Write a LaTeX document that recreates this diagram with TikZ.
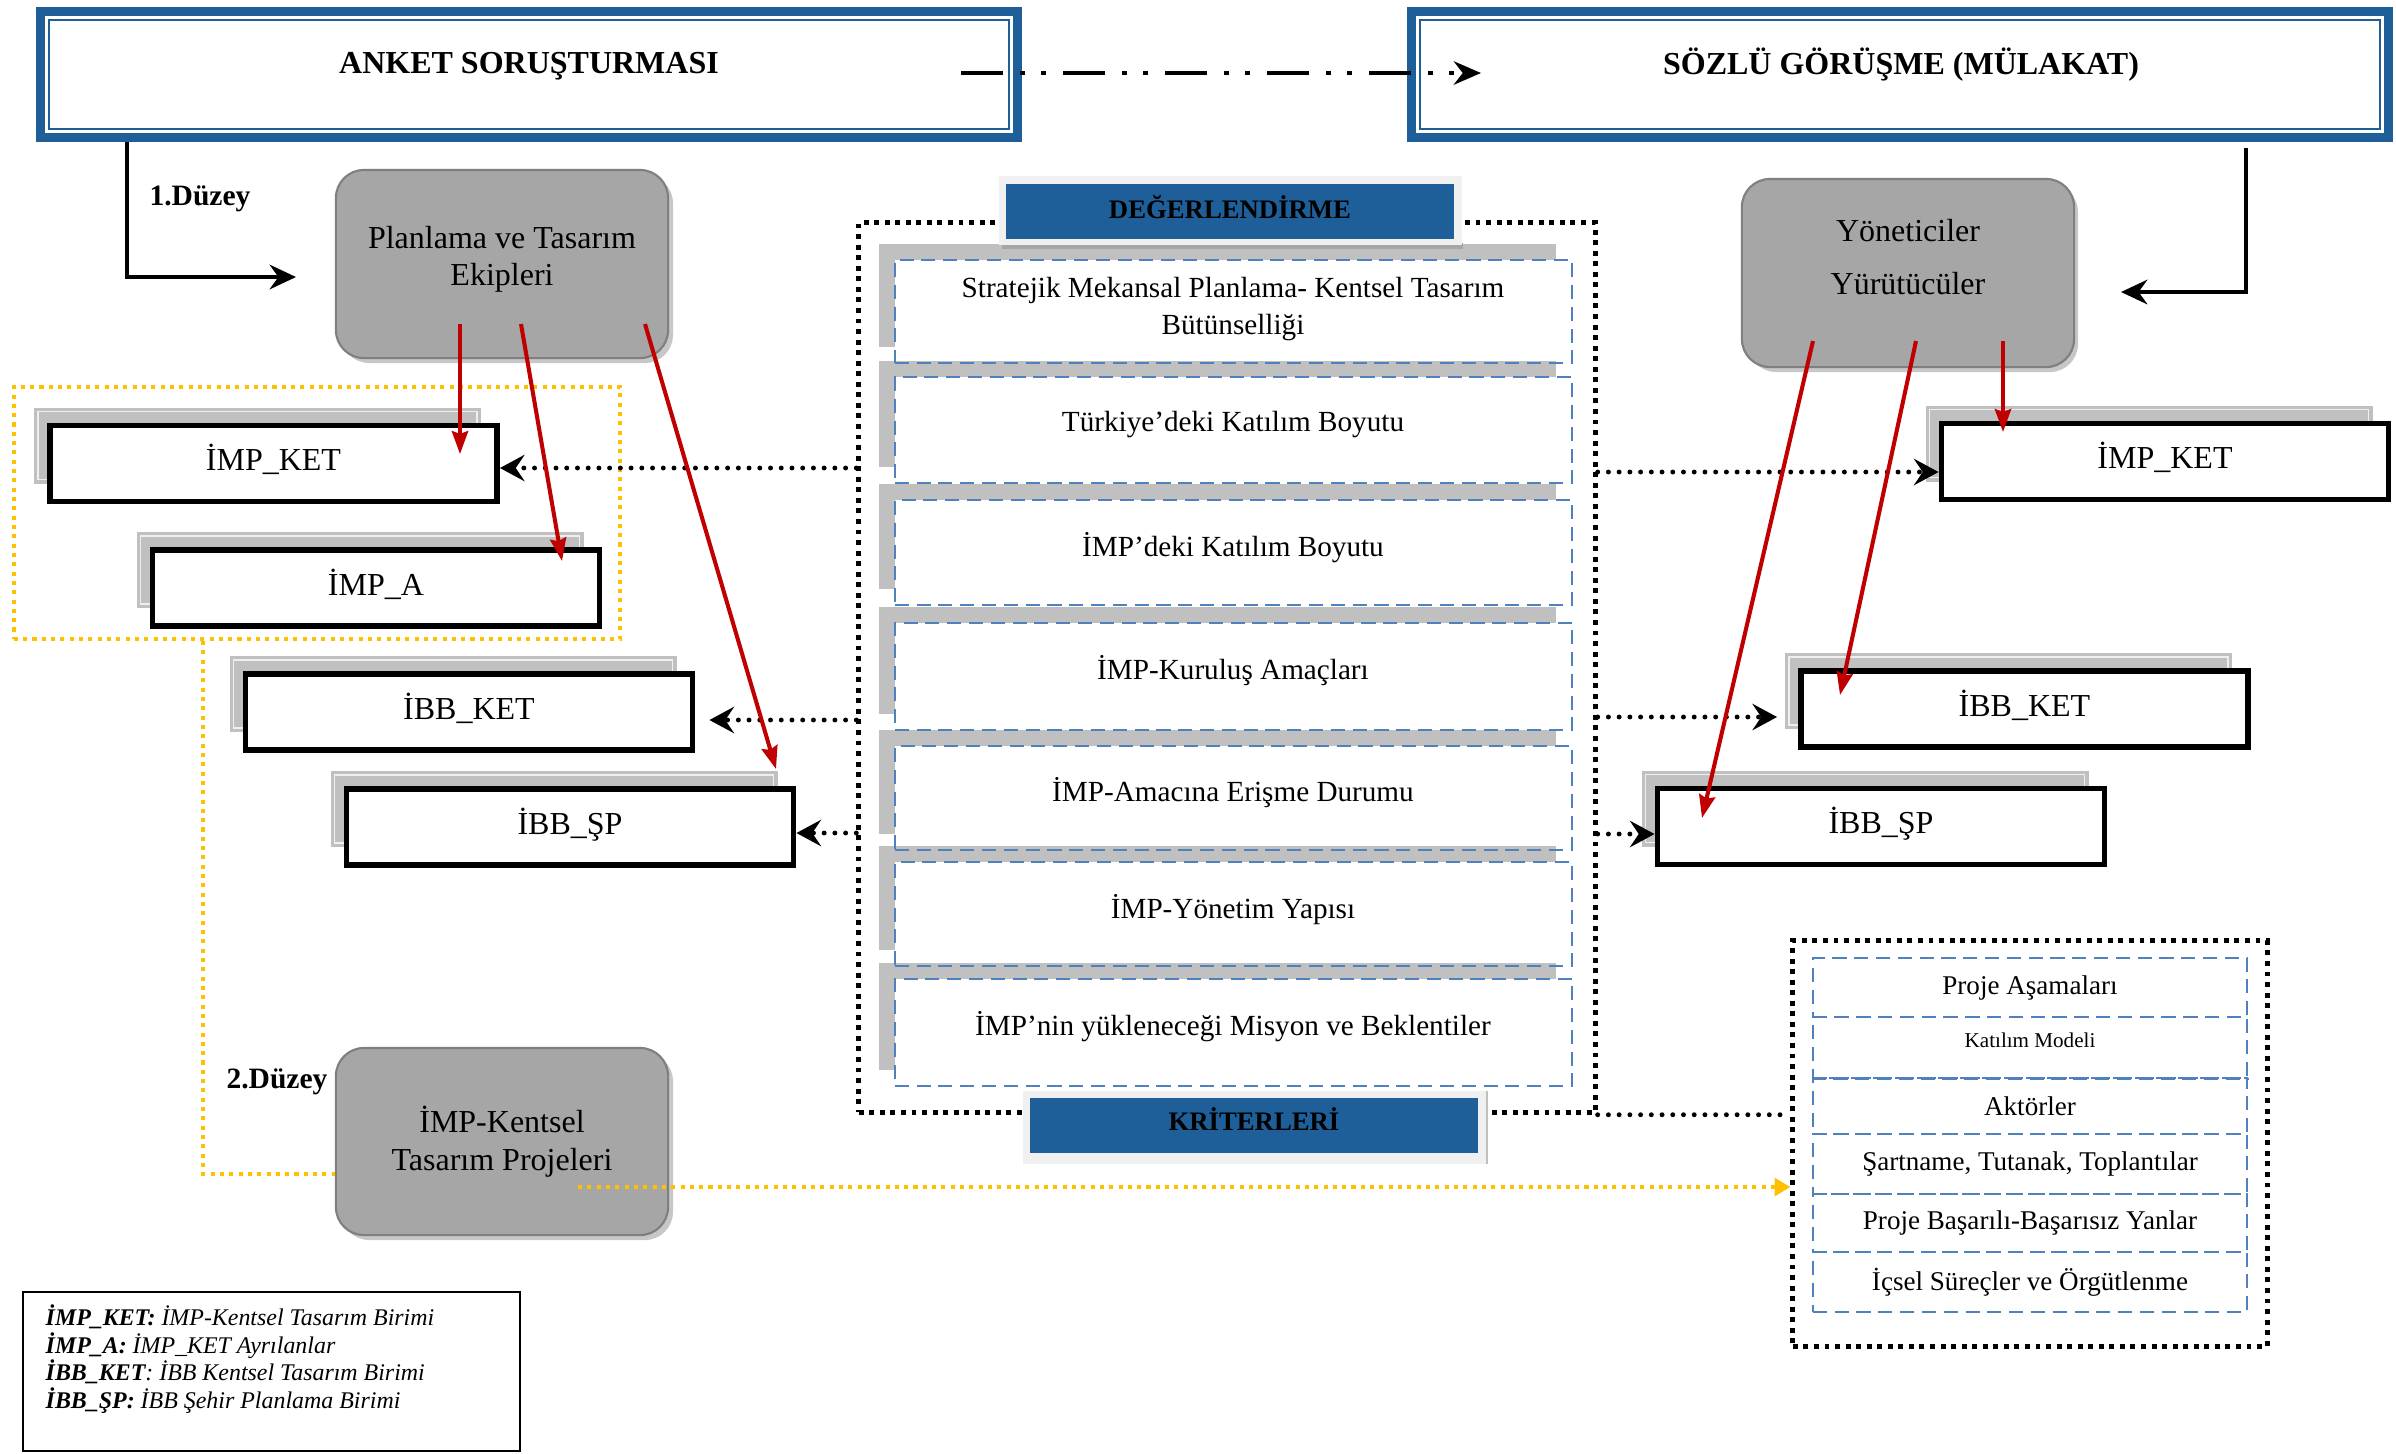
\documentclass[tikz,border=0pt]{standalone}
\usepackage{fontspec}
\setmainfont{Liberation Serif}
\usetikzlibrary{arrows.meta,calc}
\definecolor{bl}{HTML}{1F5F99}
\definecolor{dashbl}{HTML}{4F81BD}
\definecolor{redc}{HTML}{C00000}
\definecolor{yel}{HTML}{FFC000}
\definecolor{gbox}{HTML}{A6A6A6}
\definecolor{gboxd}{HTML}{7F7F7F}
\definecolor{shad}{HTML}{C0C0C0}
\definecolor{lightfr}{HTML}{F0F0F0}
\newcommand{\unitbx}[4]{%
  \fill[shad] ($(#2,#3)+(-239.5,-56)$) rectangle ($(#2,#3)+(207.5,20)$);
  \draw[white!75!shad, line width=0.5pt] ($(#2,#3)+(-235.5,-52)$) rectangle ($(#2,#3)+(203.5,16)$);
  \node[unitbox] (#1) at (#2,#3) {\raisebox{-2pt}[0pt][0pt]{#4}};}
\begin{document}
\begin{tikzpicture}[x=0.01cm,y=-0.01cm,
  bluebox/.style={draw=bl, line width=2.56pt, inner sep=0pt, minimum width=9.77cm, minimum height=1.26cm},
  titletext/.style={font=\bfseries\fontsize{9.1}{11}\selectfont, inner sep=0pt},
  unitbox/.style={draw=black, fill=white, line width=1.6pt, minimum width=4.47cm, minimum height=0.76cm, inner sep=0pt, font=\fontsize{9.1}{11}\selectfont},
  grayrnd/.style={fill=gbox, draw=gboxd, line width=0.6pt, rounded corners=0.28cm, inner sep=0pt, minimum width=3.32cm, minimum height=1.88cm},
  gshadow/.style={fill=black!22, rounded corners=0.28cm},
  maintext/.style={font=\fontsize{9.1}{10.5}\selectfont, align=center, inner sep=0pt},
  itemtext/.style={font=\fontsize{8.3}{10.8}\selectfont, align=center, inner sep=0pt},
  rowbox/.style={draw=dashbl, line width=0.7pt, dash pattern=on 4pt off 2.2pt, minimum width=6.77cm, inner sep=0pt},
  critrow/.style={draw=dashbl, line width=0.7pt, dash pattern=on 4pt off 2.2pt, minimum width=4.34cm, inner sep=0pt, font=\fontsize{7.7}{9}\selectfont},
  sqdot/.style={draw=black, line width=1.4pt, dash pattern=on 1.4pt off 1.6pt, inner sep=0pt},
  dotline/.style={line width=1.4pt, line cap=round, dash pattern=on 0pt off 3.05pt},
  dotarr/.style={dotline, -{Stealth[length=7pt,width=7.5pt,inset=2.5pt]}},
  yeldot/.style={draw=yel, line width=1.15pt, dash pattern=on 1.15pt off 1.5pt},
  redarr/.style={draw=redc, line width=1.15pt, -{Stealth[length=6.5pt,width=4.6pt,inset=0.8pt]}},
  elbow/.style={line width=1.15pt, -{Stealth[length=7.5pt,width=7pt,inset=2.5pt]}},
  dashdot/.style={line width=1.4pt, dash pattern=on 11.95pt off 4.84pt on 1.42pt off 4.55pt on 1.42pt off 4.84pt, -{Stealth[length=7.7pt,width=6.6pt,inset=2.5pt]}},
  level/.style={font=\bfseries\fontsize{8.4}{10}\selectfont, inner sep=0pt},
  labbox/.style={fill=bl, inner sep=0pt, font=\bfseries\fontsize{7.6}{9}\selectfont, text=black},
  legend/.style={font=\itshape\fontsize{6.8}{8}\selectfont, inner sep=0pt, anchor=base west}
]
\useasboundingbox (0,0) rectangle (2396,1453);

% ---------- top boxes ----------
\node[bluebox] (anket) at (529,74.5) {};
\draw[bl, line width=0.57pt] ($(anket.north west)+(13,13)$) rectangle ($(anket.south east)+(-13,-13)$);
\node[titletext] (anketT) at (529,66) {ANKET SORUŞTURMASI};
\node[bluebox] (sozlu) at (1900,74.5) {};
\draw[bl, line width=0.57pt] ($(sozlu.north west)+(13,13)$) rectangle ($(sozlu.south east)+(-13,-13)$);
\node[titletext] (sozluT) at (1901,65) {SÖZLÜ GÖRÜŞME (MÜLAKAT)};
\coordinate (ddS) at (961,73);
\coordinate (ddE) at (1481,73);
\draw[dashdot] (ddS) -- (ddE);

% ---------- elbow arrows ----------
\coordinate (L1) at (127,277);
\coordinate (L1t) at (296,277);
\draw[elbow] (anket.south -| L1) -- (L1) -- (L1t);
\node[level] (lev1) at (200,199) {1.Düzey};
\coordinate (R0) at (2246,148);
\coordinate (R1) at (2246,292);
\coordinate (R1t) at (2121,292);
\draw[elbow] (R0) -- (R1) -- (R1t);

% ---------- gray rounded boxes ----------
\fill[gshadow] (341,175) rectangle (673,363);
\node[grayrnd] (plan) at (502,264) {};
\node[maintext] (planT) at (502,259) {Planlama ve Tasarım\\Ekipleri};
\fill[gshadow] (1748,184) rectangle (2078,372);
\node[grayrnd] (yon) at (1908,273) {};
\node[maintext] (yonT1) at (1908,231) {Yöneticiler};
\node[maintext] (yonT2) at (1908,284) {Yürütücüler};
\fill[gshadow] (341,1053) rectangle (673,1240);
\node[grayrnd, minimum height=1.87cm] (ken) at (502,1141.5) {};
\node[maintext, font=\fontsize{9.1}{10.8}\selectfont] (kenT) at (502,1142) {İMP-Kentsel\\Tasarım Projeleri};
\node[level] (lev2) at (277,1082) {2.Düzey};

% ---------- yellow group ----------
\node[yeldot, minimum width=6.06cm, minimum height=2.52cm, inner sep=0pt] (yelbox) at (317,513) {};

% ---------- unit boxes ----------
\unitbx{ikL}{273.5}{463.5}{İMP\_KET}
\unitbx{iaL}{376}{588}{İMP\_A}
\unitbx{bkL}{469}{712}{İBB\_KET}
\unitbx{bsL}{570}{827}{İBB\_ŞP}
\unitbx{ikR}{2165}{461.5}{İMP\_KET}
\unitbx{bkR}{2024.5}{709}{İBB\_KET}
\unitbx{bsR}{1881}{826.5}{İBB\_ŞP}

% ---------- central criteria box ----------
\node[sqdot, minimum width=7.36cm, minimum height=8.89cm] (cbox) at (1227,667.5) {};
\foreach \t/\b in {260/363,377/483,500/605,623/730,746/850,862/966,979/1086}{
  \fill[shad] (879,\t-16) rectangle (1556,\b-16);
  \fill[white] (895,\t) rectangle (1572,\b);
}
\node[rowbox, minimum height=1.03cm] (row1) at (1233.5,311.5) {};
\node[rowbox, minimum height=1.06cm] (row2) at (1233.5,430) {};
\node[rowbox, minimum height=1.05cm] (row3) at (1233.5,552.5) {};
\node[rowbox, minimum height=1.07cm] (row4) at (1233.5,676.5) {};
\node[rowbox, minimum height=1.04cm] (row5) at (1233.5,798) {};
\node[rowbox, minimum height=1.04cm] (row6) at (1233.5,914) {};
\node[rowbox, minimum height=1.07cm] (row7) at (1233.5,1032.5) {};
\node[itemtext] (t1) at (1233,309) {Stratejik Mekansal Planlama- Kentsel Tasarım\\Bütünselliği};
\node[itemtext] (t2) at (1233,425) {Türkiye’deki Katılım Boyutu};
\node[itemtext] (t3) at (1233,548) {İMP’deki Katılım Boyutu};
\node[itemtext] (t4) at (1233,671) {İMP-Kuruluş Amaçları};
\node[itemtext] (t5) at (1233,793) {İMP-Amacına Erişme Durumu};
\node[itemtext] (t6) at (1233,910) {İMP-Yönetim Yapısı};
\node[itemtext] (t7) at (1233,1027) {İMP’nin yükleneceği Misyon ve Beklentiler};

% labels
\fill[black!35] (1002,243) rectangle (1463,249);
\fill[lightfr] (999,176) rectangle (1462,245);
\node[labbox, minimum width=4.48cm, minimum height=0.55cm] (deg) at (1230,211.5) {\raisebox{-1.85pt}[0pt][0pt]{DEĞERLENDİRME}};
\fill[lightfr] (1023,1091) rectangle (1487,1164);
\draw[black!25, line width=0.5pt] (1487,1091) -- (1487,1164);
\node[labbox, minimum width=4.48cm, minimum height=0.55cm] (kri) at (1254,1125.5) {\raisebox{-1.4pt}[0pt][0pt]{KRİTERLERİ}};

% ---------- right criteria box ----------
\node[sqdot, minimum width=4.74cm, minimum height=4.05cm] (crit) at (2030,1143.5) {};
\node[critrow, minimum height=0.59cm] (c1) at (2030,987.5) {Proje Aşamaları};
\node[critrow, minimum height=0.61cm, font=\fontsize{6}{7}\selectfont] (c2) at (2030,1047.5) {\raisebox{0pt}[0pt][0pt]{Katılım Modeli}};
\node[critrow, minimum height=0.56cm] (c3) at (2030,1106) {Aktörler};
\draw[dashbl, line width=0.7pt, dash pattern=on 4pt off 2.2pt] ($(c3.north west)+(0,2)$) -- ($(c3.north east)+(0,2)$);
\node[critrow, minimum height=0.60cm] (c4) at (2030,1164) {Şartname, Tutanak, Toplantılar};
\node[critrow, minimum height=0.58cm] (c5) at (2030,1223) {Proje Başarılı-Başarısız Yanlar};
\node[critrow, minimum height=0.60cm] (c6) at (2030,1282) {İçsel Süreçler ve Örgütlenme};

% ---------- dotted connectors ----------
\draw[dotarr] (cbox.west |- 0,468) -- (ikL.east |- 0,468);
\draw[dotarr] (cbox.west |- 0,720) -- ($(bkL.east |- 0,720)+(14,0)$);
\draw[dotarr] (cbox.west |- 0,833) -- (bsL.east |- 0,833);
\draw[dotarr] (cbox.east |- 0,472) -- (ikR.west |- 0,472);
\draw[dotarr] (cbox.east |- 0,717) -- ($(bkR.west |- 0,717)+(-21,0)$);
\draw[dotarr] (cbox.east |- 0,834) -- (bsR.west |- 0,834);
\draw[dotline] (cbox.south east) -- (crit.west |- cbox.south east);

% ---------- yellow connectors ----------
\coordinate (yc) at (203,1174);
\draw[yeldot] (yelbox.south -| yc) -- (yc) -- (ken.west |- yc);
\coordinate (ys) at (578,1187);
\draw[yeldot, -{Triangle[length=4.5pt,width=5pt]}] (ys) -- (crit.west |- ys);

% ---------- red arrows ----------
\coordinate (r1s) at (460,324);  \coordinate (r1e) at (460,454);
\coordinate (r2s) at (521,324);  \coordinate (r2e) at (562,561);
\coordinate (r3s) at (645,324);  \coordinate (r3e) at (776,769);
\coordinate (r4s) at (2003,341); \coordinate (r4e) at (2003,432);
\coordinate (r5s) at (1916,341); \coordinate (r5e) at (1840,695);
\coordinate (r6s) at (1813,341); \coordinate (r6e) at (1702,818);
\draw[redarr] (r1s) -- (r1e);
\draw[redarr] (r2s) -- (r2e);
\draw[redarr] (r3s) -- (r3e);
\draw[redarr] (r4s) -- (r4e);
\draw[redarr] (r5s) -- (r5e);
\draw[redarr] (r6s) -- (r6e);

% ---------- legend ----------
\node[draw=black, line width=0.6pt, minimum width=4.97cm, minimum height=1.59cm, inner sep=0pt] (leg) at (271.5,1371.5) {};
\node[legend] (lg1) at (45,1325) {\textbf{İMP\_KET:} İMP-Kentsel Tasarım Birimi};
\node[legend] (lg2) at (45,1353) {\textbf{İMP\_A:} İMP\_KET Ayrılanlar};
\node[legend] (lg3) at (45,1380) {\textbf{İBB\_KET}: İBB Kentsel Tasarım Birimi};
\node[legend] (lg4) at (45,1408) {\textbf{İBB\_ŞP:} İBB Şehir Planlama Birimi};
\end{tikzpicture}
\end{document}
